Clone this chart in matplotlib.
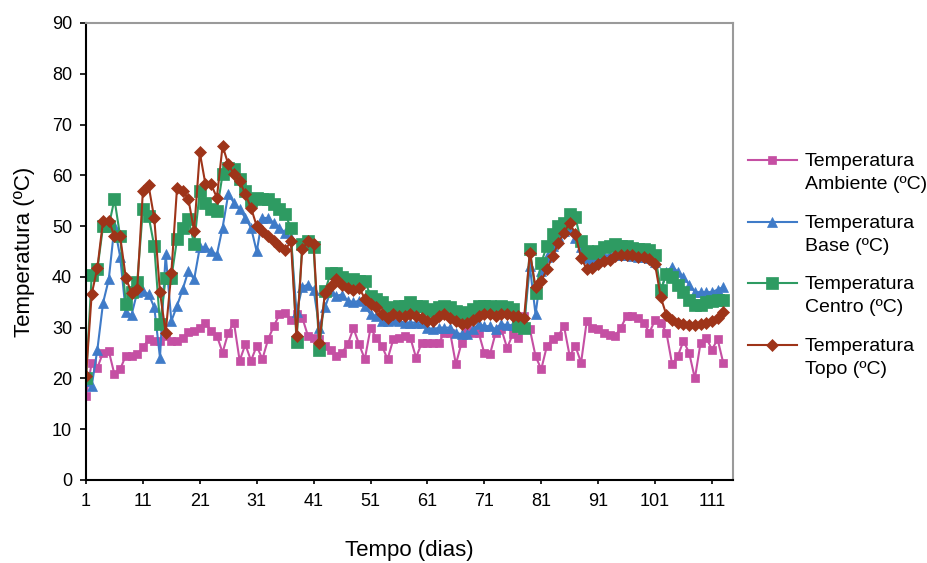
import numpy as np
import matplotlib
matplotlib.use("Agg")
import matplotlib.pyplot as plt
from matplotlib.lines import Line2D

plt.rcParams['font.family'] = ['Liberation Sans', 'DejaVu Sans']

days = np.arange(1, 114)

ambiente = [16.5, 23.1, 22.1, 25.1, 25.4, 20.8, 21.8, 24.5, 24.5, 24.8,
            26.1, 27.7, 27.4, 27.4, 28.4, 27.4, 27.4, 28.0, 29.2, 29.3,
            29.9, 31.0, 29.3, 28.4, 25.1, 29.0, 31.0, 23.5, 26.7, 23.5,
            26.4, 23.8, 27.7, 30.3, 32.6, 32.9, 31.6, 32.6, 32.0, 28.4,
            28.0, 27.7, 26.4, 25.7, 24.4, 25.1, 26.7, 29.9, 26.7, 23.8,
            29.9, 28.0, 26.4, 23.8, 27.7, 28.0, 28.4, 28.0, 24.1, 27.0,
            27.0, 27.0, 27.0, 29.0, 29.0, 22.8, 27.0, 29.5, 29.0, 29.0,
            25.0, 24.8, 29.0, 29.7, 26.0, 28.7, 28.0, 32.3, 29.7, 24.4,
            21.8, 26.4, 27.7, 28.4, 30.3, 24.4, 26.4, 23.1, 31.3, 30.0,
            29.7, 29.0, 28.6, 28.4, 30.0, 32.3, 32.3, 32.0, 31.0, 29.0,
            31.5, 31.0, 29.0, 22.8, 24.4, 27.4, 25.0, 20.0, 27.0, 28.0,
            25.7, 27.7, 23.0]

base = [19.5, 18.5, 25.7, 34.9, 39.5, 50.0, 44.0, 33.0, 32.5, 37.0,
        37.2, 36.6, 34.0, 24.1, 44.5, 31.3, 34.3, 37.6, 41.2, 39.5,
        45.8, 45.8, 45.1, 44.4, 49.7, 56.3, 54.6, 53.3, 51.6, 49.7,
        45.0, 51.6, 51.6, 50.6, 49.7, 48.7, 47.7, 33.0, 38.0, 38.5,
        37.5, 30.0, 34.0, 37.2, 36.3, 36.5, 35.3, 35.0, 35.3, 34.3,
        32.6, 32.3, 31.3, 31.3, 31.5, 31.3, 31.0, 31.0, 31.0, 31.0,
        30.0, 29.7, 30.0, 30.0, 30.0, 29.0, 28.7, 28.7, 29.7, 30.7,
        30.3, 30.3, 29.7, 30.7, 30.5, 30.5, 30.3, 30.7, 42.1, 32.6,
        41.1, 44.0, 46.0, 48.0, 49.0, 49.4, 47.7, 45.8, 43.8, 43.4,
        44.0, 44.2, 44.3, 44.3, 44.3, 44.3, 44.2, 44.0, 44.0, 43.8,
        43.0, 37.0, 41.0, 42.0, 41.0, 40.0, 38.5, 37.0, 37.0, 37.0,
        37.0, 37.5, 38.0]

centro = [20.0, 40.3, 41.5, 50.0, 50.0, 55.3, 48.0, 34.6, 37.0, 39.0,
          53.3, 52.0, 46.0, 30.7, 39.8, 39.8, 47.4, 49.7, 51.4, 46.5,
          56.9, 54.6, 53.3, 53.0, 60.2, 61.5, 61.2, 59.2, 56.9, 55.0,
          55.5, 55.3, 55.3, 54.3, 53.3, 52.3, 49.7, 27.2, 46.5, 47.0,
          45.8, 25.7, 37.2, 40.8, 40.8, 39.9, 39.2, 39.5, 39.2, 39.2,
          36.3, 35.6, 35.0, 34.0, 33.7, 34.3, 34.3, 35.0, 34.3, 34.3,
          33.6, 33.3, 34.0, 34.3, 34.0, 33.3, 32.6, 33.0, 33.6, 34.3,
          34.3, 34.3, 34.0, 34.3, 34.0, 33.6, 30.3, 30.0, 45.5, 36.9,
          42.8, 46.1, 48.4, 50.0, 50.7, 52.3, 51.7, 47.0, 45.1, 44.8,
          45.1, 45.8, 46.1, 46.4, 46.0, 46.0, 45.7, 45.5, 45.5, 45.2,
          44.4, 37.5, 40.5, 40.0, 38.5, 37.0, 35.5, 34.5, 34.5, 35.0,
          35.2, 35.5, 35.5]

topo = [20.5, 36.6, 41.8, 51.1, 51.1, 48.0, 48.0, 39.8, 36.8, 37.6,
        57.0, 58.0, 51.5, 37.0, 29.0, 40.8, 57.6, 57.0, 55.3, 49.0,
        64.5, 58.2, 58.2, 55.6, 65.8, 62.2, 60.2, 58.9, 56.3, 53.6,
        50.0, 49.0, 48.0, 47.1, 46.1, 45.2, 47.1, 28.4, 45.4, 47.1,
        46.5, 27.0, 36.9, 38.2, 39.5, 38.5, 37.9, 37.5, 37.9, 35.7,
        34.7, 34.0, 32.6, 32.0, 32.6, 32.3, 32.3, 32.6, 32.3, 32.0,
        31.3, 31.3, 32.3, 32.6, 32.0, 31.3, 30.7, 31.0, 31.6, 32.3,
        32.6, 32.6, 32.3, 32.6, 32.6, 32.3, 32.3, 32.0, 44.8, 38.0,
        39.2, 41.5, 44.1, 46.7, 48.7, 50.7, 48.4, 43.8, 41.5, 41.8,
        42.5, 43.1, 43.4, 44.1, 44.3, 44.3, 44.3, 44.0, 44.0, 43.5,
        42.5, 36.0, 32.5, 31.5, 31.0, 30.8, 30.5, 30.5, 30.8, 31.0,
        31.3, 32.0, 33.0]

labels = ['Temperatura\nAmbiente (ºC)', 'Temperatura\nBase (ºC)',
          'Temperatura\nCentro (ºC)', 'Temperatura\nTopo (ºC)']
colors = ['#C54FA3', '#3F7BC8', '#2E9B62', '#9E3419']
markers = ['s', '^', 's', 'D']
msizes = [5.5, 6.5, 8, 6.5]

W, H = 928, 563
fig = plt.figure(figsize=(W / 100, H / 100), dpi=100)
ax = fig.add_axes([86 / W, 1 - 480 / H, (733 - 86) / W, (480 - 23) / H])

for y, lab, c, m, ms in zip([ambiente, base, centro, topo], labels, colors, markers, msizes):
    ax.plot(days, y, color=c, marker=m, markersize=ms, markeredgewidth=0.5,
            linewidth=1.5, label=lab)

ax.set_xlim(1, 114.7)
ax.set_ylim(0, 90)
ax.set_xticks(np.arange(1, 114, 10))
ax.set_yticks(np.arange(0, 91, 10))
ax.tick_params(axis='x', length=3, width=1.2, labelsize=13, pad=6, direction='out')
ax.tick_params(axis='y', length=4, width=1.2, labelsize=13, pad=6, direction='out')
for s in ['top', 'right']:
    ax.spines[s].set_color('#9a9a9a')
    ax.spines[s].set_linewidth(1.5)
for s in ['left', 'bottom']:
    ax.spines[s].set_linewidth(1.5)

ax.set_xlabel('Tempo (dias)', fontsize=16, labelpad=22)
ax.set_ylabel('Temperatura (ºC)', fontsize=16, labelpad=12)

# legend drawn by hand so the marker sits on the first text line
rows = [160, 222, 283, 345]
for row, lab, c, m, ms in zip(rows, labels, colors, markers, msizes):
    yf = 1 - row / H
    fig.add_artist(Line2D([748 / W, 797 / W], [yf, yf], color=c, linewidth=1.5,
                          transform=fig.transFigure))
    fig.add_artist(Line2D([772.5 / W], [yf], color=c, marker=m, markersize=ms,
                          markeredgewidth=0.5, transform=fig.transFigure))
    fig.text(805 / W, 1 - (row - 7) / H, lab, fontsize=14, va='top', ha='left',
             linespacing=1.45)

fig.savefig('out.png', dpi=100)
